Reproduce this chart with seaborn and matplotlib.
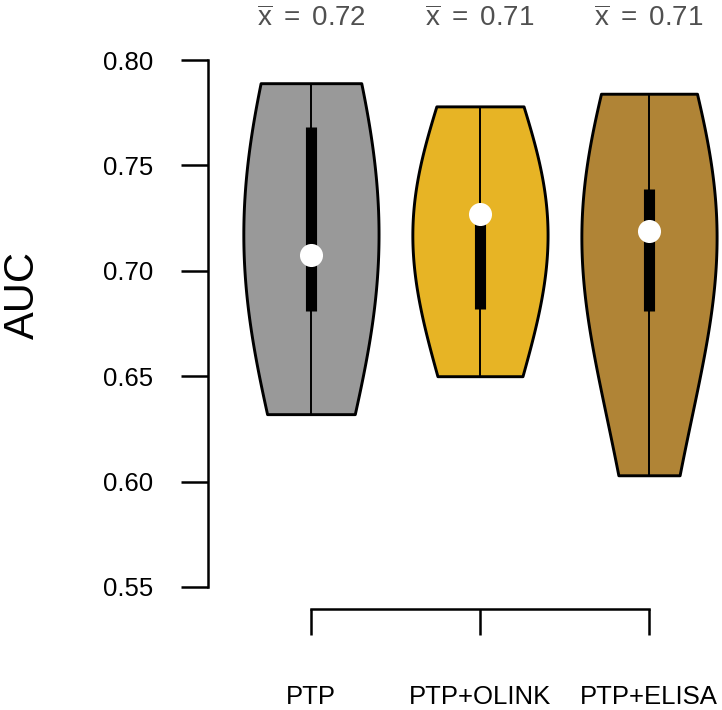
import numpy as np
import pandas as pd
import matplotlib.pyplot as plt
import matplotlib.transforms as mtransforms
import seaborn as sns

# ------------------------------------------------------------
# AUC values per model
# ------------------------------------------------------------
ptp_auc = [0.632, 0.660, 0.678, 0.690, 0.700, 0.715, 0.760, 0.771, 0.780, 0.789]
olink_auc = [0.650, 0.660, 0.675, 0.703, 0.725, 0.729, 0.729, 0.7303, 0.755, 0.778]
elisa_auc = [0.603, 0.650, 0.677, 0.693, 0.712, 0.726, 0.735, 0.7403, 0.760, 0.784]

model_names = ["PTP", "PTP+OLINK", "PTP+ELISA"]
model_colors = ["#999999", "#E7B425", "#B08436"]
y_ticks = [0.55, 0.60, 0.65, 0.70, 0.75, 0.80]

auc_df = pd.DataFrame({
    "model": np.repeat(model_names, [len(ptp_auc), len(olink_auc), len(elisa_auc)]),
    "auc": ptp_auc + olink_auc + elisa_auc,
})

sns.set_style("ticks")
plt.rcParams["font.family"] = ["Liberation Sans", "DejaVu Sans"]
plt.rcParams["mathtext.fontset"] = "custom"
plt.rcParams["mathtext.rm"] = "Liberation Sans"
plt.rcParams["mathtext.it"] = "Liberation Sans"

fig = plt.figure(figsize=(7.22, 7.10), dpi=100)
ax = fig.add_axes([208 / 722, 123 / 710, 514 / 722, 527 / 710])

sns.violinplot(data=auc_df, x="model", y="auc", hue="model", order=model_names,
               palette=model_colors, saturation=1, cut=0, density_norm="width",
               width=0.8, bw_adjust=2.0, linewidth=2.1, linecolor="black",
               inner="box",
               inner_kws=dict(box_width=8, whis_width=1.4, marker="o", markersize=15,
                              solid_capstyle="butt"),
               legend=False, ax=ax)

ax.set_xlim(-0.609, 2.432)
ax.set_ylim(0.55, 0.80)

# R-style detached axes
for side in ["top", "right"]:
    ax.spines[side].set_visible(False)
ax.spines["left"].set_bounds(0.55, 0.80)
ax.spines["bottom"].set_position(("outward", 16))
ax.spines["bottom"].set_bounds(0, 2)
for side in ["left", "bottom"]:
    ax.spines[side].set_linewidth(1.8)
    ax.spines[side].set_color("black")

ax.set_yticks(y_ticks)
ax.set_yticklabels([f"{t:.2f}" for t in y_ticks])
ax.set_xticks(range(len(model_names)))
ax.set_xticklabels(model_names)
ax.tick_params(axis="y", length=19.5, width=1.8, pad=20, labelsize=18.5,
               color="black", labelcolor="black")
ax.tick_params(axis="x", length=18.7, width=1.8, pad=36, labelsize=18.5,
               color="black", labelcolor="black")
ax.set_xlabel("")
ax.set_ylabel("")

# mean labels above each violin
trans = mtransforms.blended_transform_factory(ax.transData, ax.transAxes)
for i, vals in enumerate([ptp_auc, olink_auc, elisa_auc]):
    ax.text(i, 1.077, r"$\overline{\mathrm{x}}\ =\ $" + f"{np.mean(vals):.2f}",
            transform=trans, ha="center", va="center", fontsize=20, color="#505050")

fig.text(23 / 722, 1 - 295 / 710, "AUC", rotation=90, ha="center", va="center",
         fontsize=30, color="black")

fig.savefig("out.png", dpi=100)
